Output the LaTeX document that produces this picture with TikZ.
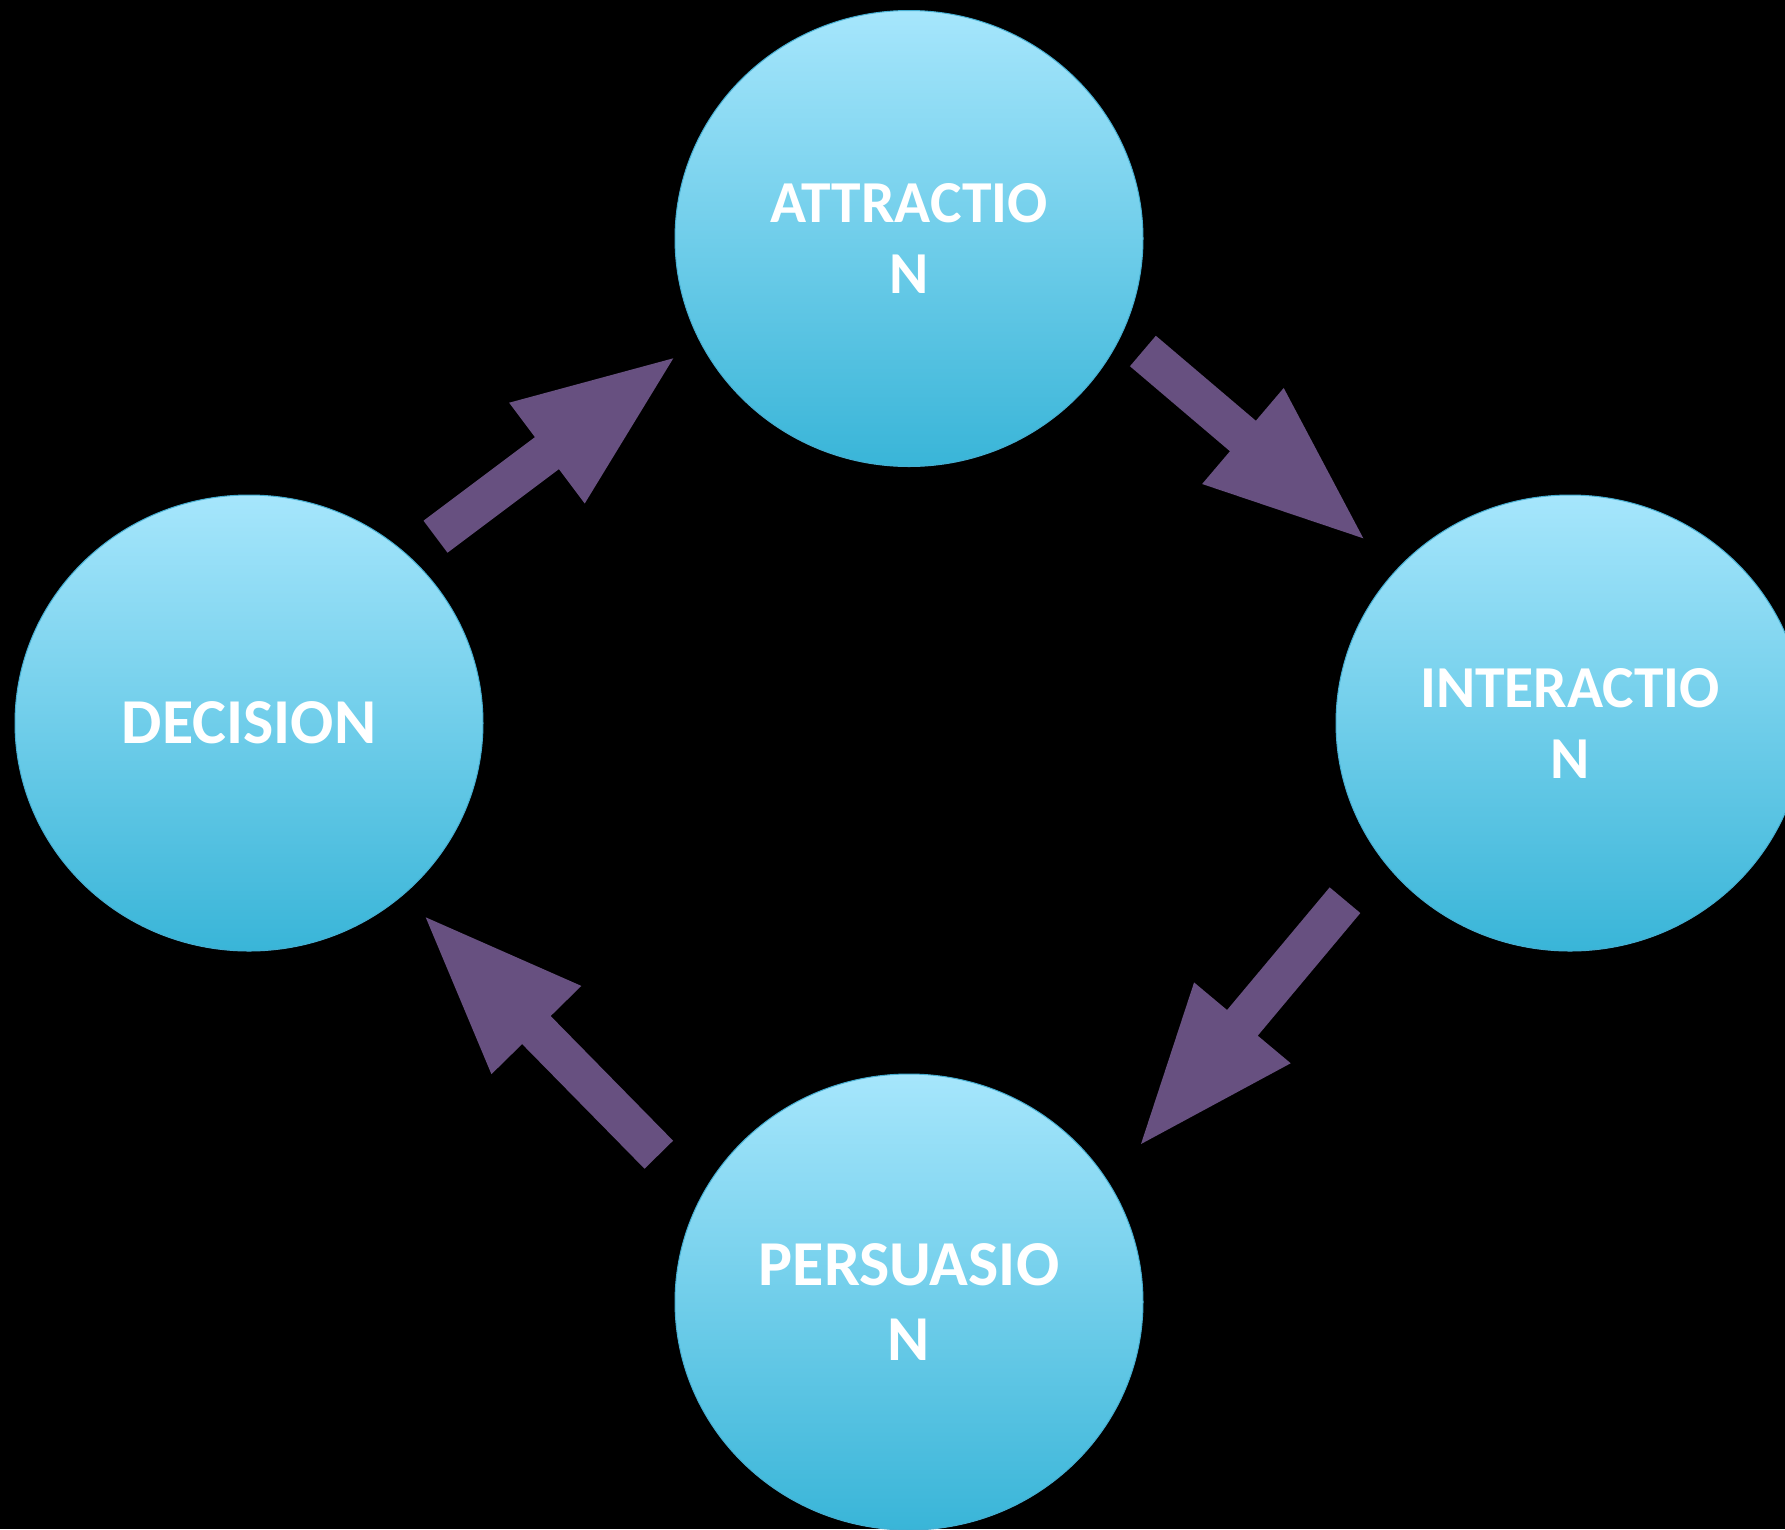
\documentclass[tikz,border=0pt]{standalone}
\usepackage{fontspec}
\setmainfont{Carlito}
\usetikzlibrary{shapes.geometric,calc}
\definecolor{bubtop}{RGB}{166,230,252}
\definecolor{bubbot}{RGB}{57,181,216}
\definecolor{bubedge}{RGB}{70,175,210}
\definecolor{arrowpurple}{RGB}{103,80,128}
\tikzset{
  bubble/.style={ellipse, minimum width=468pt, minimum height=456pt, inner sep=0pt,
    top color=bubtop, bottom color=bubbot, draw=bubedge, line width=1pt,
    text=white, align=center},
  bigtxt/.style={font=\fontsize{64}{75}\selectfont\bfseries},
  smalltxt/.style={font=\fontsize{59.5}{71}\selectfont\bfseries},
  arrowfill/.style={fill=arrowpurple}
}
\newcommand\flowarrow[2]{%
  \coordinate (#1-b) at ($(#2)!158pt!(#1)$);
  \fill[arrowfill] ($(#1)!20pt!90:(#2)$) -- ($(#1-b)!20pt!90:(#2)$) -- ($(#1-b)!63pt!90:(#2)$)
    -- (#2) -- ($(#1-b)!63pt!-90:(#2)$) -- ($(#1-b)!20pt!-90:(#2)$) -- ($(#1)!20pt!-90:(#2)$) -- cycle;}
\begin{document}
\begin{tikzpicture}[x=1pt,y=-1pt]
\useasboundingbox (0,0) rectangle (1785,1529);
\fill[black] (0,0) rectangle (1785,1529);
\begin{scope}
\clip (0,0) rectangle (1785,1529);
\node[bubble, smalltxt] (attr) at (909,238.5) {ATTRACTIO\\N};
\node[bubble, bigtxt] (dec) at (249,723) {DECISION};
\node[bubble, smalltxt] (inter) at (1570,723) {INTERACTIO\\N};
\node[bubble, bigtxt] (pers) at (909,1302) {PERSUASIO\\N};
% arrow end points
\coordinate (t1) at (435.5,536.7);   \coordinate (h1) at (673.3,358.3);
\coordinate (t2) at (1142.9,351);    \coordinate (h2) at (1363.3,538.3);
\coordinate (t3) at (1345,900.2);    \coordinate (h3) at (1141,1144);
\coordinate (t4) at (658.8,1154.7);  \coordinate (h4) at (425.7,917.3);
\flowarrow{t1}{h1}
\flowarrow{t2}{h2}
\flowarrow{t3}{h3}
\flowarrow{t4}{h4}
\end{scope}
\end{tikzpicture}
\end{document}
